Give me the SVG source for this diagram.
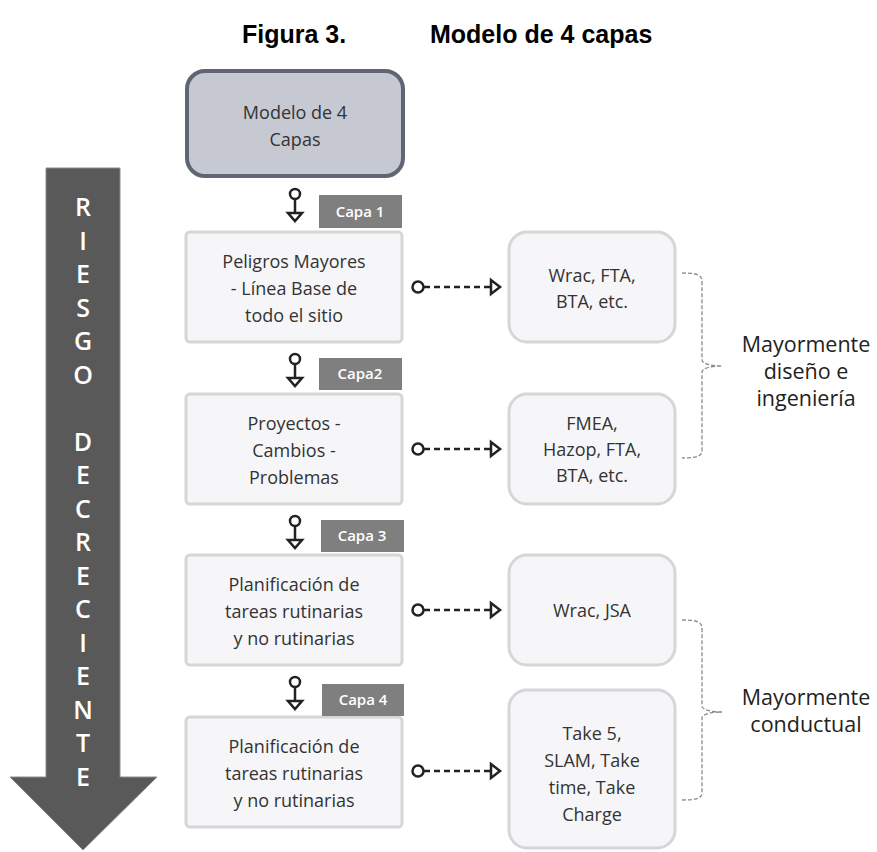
<svg xmlns="http://www.w3.org/2000/svg" width="877" height="852" viewBox="0 0 877 852">
<style>
.t{font-family:"Open Sans","Noto Sans","Liberation Sans",sans-serif;font-size:18px;fill:#333;text-anchor:middle}
.title{font-family:"Liberation Sans",Arial,sans-serif;font-size:25px;font-weight:bold;fill:#000}
.node{fill:#f6f6f8;stroke:#d6d6d8;stroke-width:3}
.cap{fill:#7f7f7f}
.capt{font-family:"Open Sans","Noto Sans",sans-serif;font-size:15px;font-weight:600;fill:#fff;text-anchor:middle}
.lt{font-family:"Open Sans","Noto Sans",sans-serif;font-size:25px;font-weight:600;fill:#fff;text-anchor:middle}
.side{font-family:"Open Sans","Noto Sans",sans-serif;font-size:21.5px;fill:#222;text-anchor:middle}
.con{fill:#fff;stroke:#222;stroke-width:2.5}
.dash{fill:none;stroke:#222;stroke-width:2.5;stroke-dasharray:6 4}
.brace{fill:none;stroke:#8a8a8a;stroke-width:1.3;stroke-dasharray:4 2}
</style>
<rect width="877" height="852" fill="#fff"/>
<text class="title" x="242" y="43">Figura 3.</text>
<text class="title" x="430" y="43">Modelo de 4 capas</text>

<g id="riesgo">
<path d="M46,168 H120 V777 H157 L83,850 L10,777 H46 Z" fill="#595959" stroke="#8c8c8c" stroke-width="1"/>
<text class="lt" x="83" y="216">R</text>
<text class="lt" x="83" y="249.5">I</text>
<text class="lt" x="83" y="283">E</text>
<text class="lt" x="83" y="316.5">S</text>
<text class="lt" x="83" y="350">G</text>
<text class="lt" x="83" y="383.5">O</text>
<text class="lt" x="83" y="450.5">D</text>
<text class="lt" x="83" y="484">E</text>
<text class="lt" x="83" y="517.5">C</text>
<text class="lt" x="83" y="551">R</text>
<text class="lt" x="83" y="584.5">E</text>
<text class="lt" x="83" y="618">C</text>
<text class="lt" x="83" y="651.5">I</text>
<text class="lt" x="83" y="685">E</text>
<text class="lt" x="83" y="718.5">N</text>
<text class="lt" x="83" y="752">T</text>
<text class="lt" x="83" y="785.5">E</text>
</g>

<g id="top">
<rect x="187" y="71" width="216" height="105" rx="18" fill="#c6c9d2" stroke="#5f6572" stroke-width="4"/>
<text class="t" x="295" y="119">Modelo de 4</text>
<text class="t" x="295" y="146">Capas</text>
</g>

<g id="n1">
<rect class="node" x="186" y="232" width="216" height="110" rx="4"/>
<text class="t" x="294" y="268">Peligros Mayores</text>
<text class="t" x="294" y="295">- Línea Base de</text>
<text class="t" x="294" y="322">todo el sitio</text>
</g>
<g id="n2">
<rect class="node" x="186" y="394" width="216" height="110" rx="4"/>
<text class="t" x="294" y="430">Proyectos -</text>
<text class="t" x="294" y="457">Cambios -</text>
<text class="t" x="294" y="484">Problemas</text>
</g>
<g id="n3">
<rect class="node" x="186" y="555" width="216" height="110" rx="4"/>
<text class="t" x="294" y="591">Planificación de</text>
<text class="t" x="294" y="618">tareas rutinarias</text>
<text class="t" x="294" y="645">y no rutinarias</text>
</g>
<g id="n4">
<rect class="node" x="186" y="717" width="216" height="110" rx="4"/>
<text class="t" x="294" y="753">Planificación de</text>
<text class="t" x="294" y="780">tareas rutinarias</text>
<text class="t" x="294" y="807">y no rutinarias</text>
</g>

<g id="r1">
<rect class="node" x="509" y="232" width="166" height="110" rx="18"/>
<text class="t" x="592" y="282">Wrac, FTA,</text>
<text class="t" x="592" y="308">BTA, etc.</text>
</g>
<g id="r2">
<rect class="node" x="509" y="394" width="166" height="110" rx="18"/>
<text class="t" x="592" y="430">FMEA,</text>
<text class="t" x="592" y="456">Hazop, FTA,</text>
<text class="t" x="592" y="482">BTA, etc.</text>
</g>
<g id="r3">
<rect class="node" x="509" y="555" width="166" height="110" rx="18"/>
<text class="t" x="592" y="617">Wrac, JSA</text>
</g>
<g id="r4">
<rect class="node" x="509" y="690" width="166" height="158" rx="18"/>
<text class="t" x="592" y="740">Take 5,</text>
<text class="t" x="592" y="767">SLAM, Take</text>
<text class="t" x="592" y="794">time, Take</text>
<text class="t" x="592" y="821">Charge</text>
</g>

<g id="cap1"><rect class="cap" x="319" y="195" width="83" height="33"/><text class="capt" x="360" y="217">Capa 1</text></g>
<g id="cap2"><rect class="cap" x="319" y="358" width="83" height="32"/><text class="capt" x="360" y="379">Capa2</text></g>
<g id="cap3"><rect class="cap" x="321" y="520" width="83" height="32"/><text class="capt" x="362" y="541">Capa 3</text></g>
<g id="cap4"><rect class="cap" x="322" y="684" width="82" height="32"/><text class="capt" x="363" y="705">Capa 4</text></g>

<g id="sideLabels">
<text class="side" x="806" y="352">Mayormente</text>
<text class="side" x="806" y="379">diseño e</text>
<text class="side" x="806" y="406">ingeniería</text>
<text class="side" x="806" y="705">Mayormente</text>
<text class="side" x="806" y="732">conductual</text>
</g>

<g id="connectors">
<line x1="295" y1="199" x2="295" y2="213" stroke="#222" stroke-width="2.5"/>
<circle class="con" cx="295" cy="194" r="5"/>
<path class="con" d="M288,213 H302 L295,221 Z"/>
<line x1="295" y1="364" x2="295" y2="378" stroke="#222" stroke-width="2.5"/>
<circle class="con" cx="295" cy="359" r="5"/>
<path class="con" d="M288,378 H302 L295,386 Z"/>
<line x1="295" y1="526" x2="295" y2="540" stroke="#222" stroke-width="2.5"/>
<circle class="con" cx="295" cy="521" r="5"/>
<path class="con" d="M288,540 H302 L295,548 Z"/>
<line x1="295" y1="687" x2="295" y2="701" stroke="#222" stroke-width="2.5"/>
<circle class="con" cx="295" cy="682" r="5"/>
<path class="con" d="M288,701 H302 L295,709 Z"/>

<path class="dash" d="M424,287 H490"/>
<circle class="con" cx="418" cy="287" r="5.5"/>
<path class="con" d="M491,280 V294 L500,287 Z"/>
<path class="dash" d="M424,449 H490"/>
<circle class="con" cx="418" cy="449" r="5.5"/>
<path class="con" d="M491,442 V456 L500,449 Z"/>
<path class="dash" d="M424,610 H490"/>
<circle class="con" cx="418" cy="610" r="5.5"/>
<path class="con" d="M491,603 V617 L500,610 Z"/>
<path class="dash" d="M424,771 H490"/>
<circle class="con" cx="418" cy="771" r="5.5"/>
<path class="con" d="M491,764 V778 L500,771 Z"/>

<path class="brace" d="M682,273 C698,273 702,275 702,282 V360 C702,364 712,366 722,366 C712,366 702,368 702,372 V450 C702,456 698,458 682,458"/>
<path class="brace" d="M682,620 C698,620 702,622 702,629 V706 C702,710 712,712 722,712 C712,712 702,714 702,718 V792 C702,798 698,800 682,800"/>
</g>
</svg>
